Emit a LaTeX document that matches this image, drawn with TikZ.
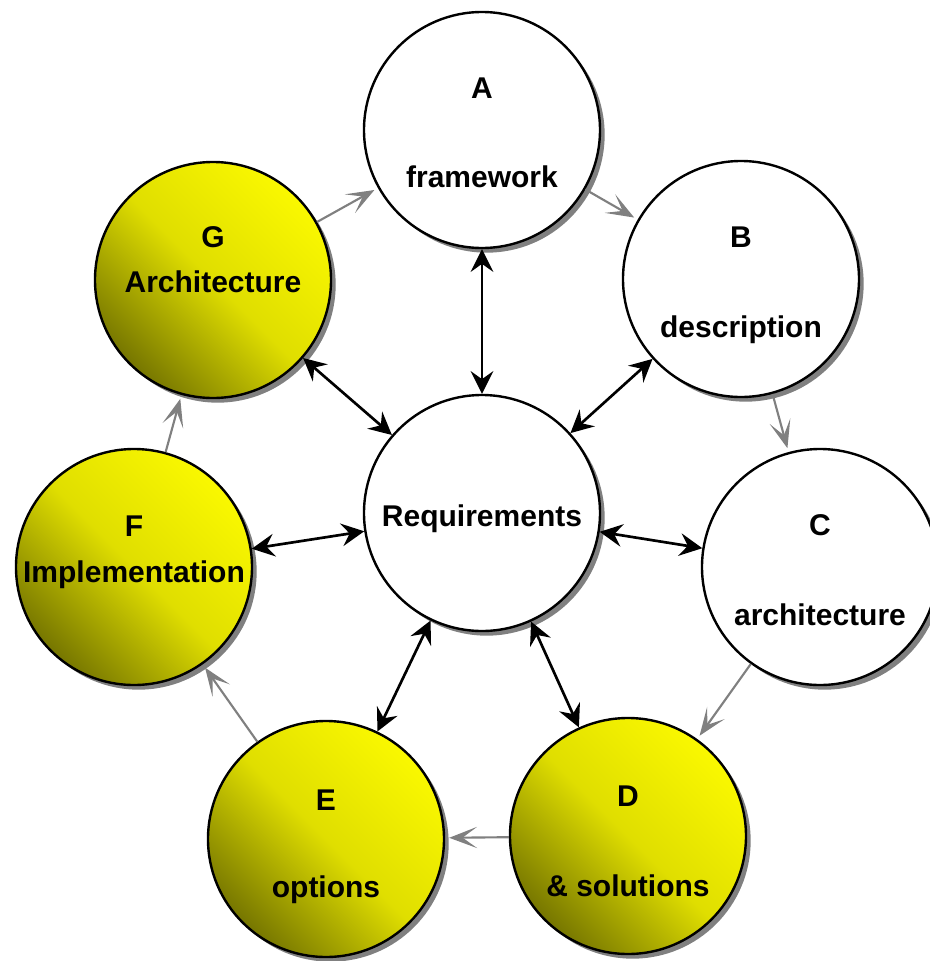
\documentclass[tikz,border=0pt]{standalone}
\usepackage{fontspec}
\setmainfont{Liberation Sans}
\usetikzlibrary{arrows.meta,shadows}
\definecolor{ydark}{RGB}{118,118,0}
\definecolor{ylight}{RGB}{250,248,0}
\definecolor{cyclegray}{RGB}{128,128,128}
\tikzset{
  stage/.style={circle, draw=black, line width=1.8pt, minimum size=177pt, inner sep=0pt,
    drop shadow={shadow xshift=3.5pt, shadow yshift=-3.5pt, fill=cyclegray, opacity=1}},
  whitestage/.style={stage, fill=white},
  yellowstage/.style={stage, bottom color=ydark, top color=ylight, middle color=ylight!80!ydark, shading angle=-45},
  lbl/.style={font=\bfseries\fontsize{22.5}{27}\selectfont, inner sep=0pt, anchor=base},
  cyc/.style={cyclegray, line width=1.6pt, -{Stealth[length=21pt,width=16pt,inset=11pt]}, shorten >=3pt},
  link/.style={line width=2pt, {Stealth[length=17pt,width=17pt,inset=6pt]}-{Stealth[length=17pt,width=17pt,inset=6pt]}}
}
\begin{document}
\begin{tikzpicture}[x=0.75pt, y=-0.75pt]
\useasboundingbox (0,0) rectangle (930,961);
% the seven stages round the centre
\node[whitestage] (A) at (482,130) {};
\node[whitestage] (B) at (741,279) {};
\node[whitestage] (C) at (820,567) {};
\node[yellowstage] (D) at (628,836) {};
\node[yellowstage] (E) at (326,839) {};
\node[yellowstage] (F) at (134,567) {};
\node[yellowstage] (G) at (213,280) {};
\node[whitestage] (R) at (482,513) {};
% texts
\node[lbl] (Aname) at (482,98) {A};
\node[lbl] (Atext) at (482,187) {framework};
\node[lbl] (Bname) at (741,247) {B};
\node[lbl] (Btext) at (741,337) {description};
\node[lbl] (Cname) at (820,535) {C};
\node[lbl] (Ctext) at (820,625) {architecture};
\node[lbl] (Dname) at (628,806) {D};
\node[lbl] (Dtext) at (628,896) {\& solutions};
\node[lbl] (Ename) at (326,810) {E};
\node[lbl] (Etext) at (326,897) {options};
\node[lbl] (Fname) at (134,536) {F};
\node[lbl] (Ftext) at (134,582) {Implementation};
\node[lbl] (Gname) at (213,247) {G};
\node[lbl] (Gtext) at (213,292) {Architecture};
\node[lbl] (Rtext) at (482,526) {Requirements};
% cycle
\draw[cyc] (G) -- (A);
\draw[cyc] (A) -- (B);
\draw[cyc] (B) -- (C);
\draw[cyc] (C) -- (D);
\draw[cyc] (D) -- (E);
\draw[cyc] (E) -- (F);
\draw[cyc] (F) -- (G);
% links to the centre
\draw[link] (R) -- (A);
\draw[link] (R) -- (B);
\draw[link] (R) -- (C);
\draw[link] (R) -- (D);
\draw[link] (R) -- (E);
\draw[link] (R) -- (F);
\draw[link] (R) -- (G);
\end{tikzpicture}
\end{document}
